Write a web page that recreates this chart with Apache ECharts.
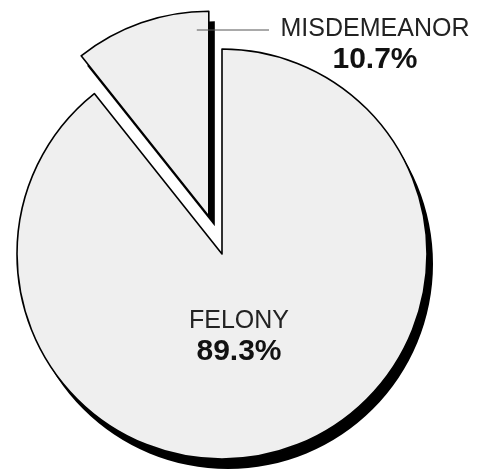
<!DOCTYPE html>
<html>
<head>
<meta charset="utf-8">
<style>
  html, body { margin: 0; padding: 0; background: #fff; }
  #charts { width: 479px; height: 472px; }
</style>
<script src="https://cdn.jsdelivr.net/npm/echarts@6/dist/echarts.min.js"></script>
</head>
<body>
<div id="charts"></div>
<script>
// chart data
var categories = ['FELONY', 'MISDEMEANOR'];
var shares = [89.3, 10.7];
var exploded = [false, true];

// where the labels sit
var labelSpots = [
    { x: 239, y: 337 },
    { x: 375, y: 45 }
];

var myChart = echarts.init(document.getElementById('charts'));

var pieCenter = [222, 254];
var pieRadius = 205;
var explodeBy = 40;
var shadowShift = [6, 10];

var total = shares.reduce(function (a, b) { return a + b; }, 0);

// centre of each slice's layer (exploded ones pushed out along their mid angle)
function sliceCenter(i) {
    var before = 0;
    for (var k = 0; k < i; k++) before += shares[k];
    var mid = (before + shares[i] / 2) / total * 2 * Math.PI; // clockwise from 12 o'clock
    var d = exploded[i] ? explodeBy : 0;
    return [pieCenter[0] + Math.sin(mid) * d, pieCenter[1] - Math.cos(mid) * d];
}

// one pie layer that only paints slice `focus`
function layer(focus, isShadow) {
    var c = sliceCenter(focus);
    if (isShadow) c = [c[0] + shadowShift[0], c[1] + shadowShift[1]];
    return {
        type: 'pie',
        center: c,
        radius: pieRadius,
        startAngle: 90,
        clockwise: true,
        silent: true,
        avoidLabelOverlap: false,
        emphasis: { disabled: true },
        label: {
            position: 'inside',
            formatter: '{n|{b}}\n{v|{c}%}',
            rich: {
                n: { fontSize: 25, lineHeight: 30, color: '#222', fontFamily: 'Liberation Sans' },
                v: { fontSize: 30, lineHeight: 32, color: '#111', fontWeight: 'bold', fontFamily: 'Liberation Sans' }
            }
        },
        labelLine: { show: false },
        labelLayout: isShadow ? null : function (params) {
            var spot = labelSpots[params.dataIndex];
            return { x: spot.x, y: spot.y, align: 'center', verticalAlign: 'middle' };
        },
        data: categories.map(function (name, i) {
            var on = i === focus;
            return {
                name: name,
                value: shares[i],
                itemStyle: on
                    ? (isShadow
                        ? { color: '#000', borderWidth: 0 }
                        : { color: '#efefef', borderColor: '#000', borderWidth: 1.6 })
                    : { color: 'rgba(0,0,0,0)', borderWidth: 0 },
                label: { show: on && !isShadow }
            };
        })
    };
}

var series = [];
categories.forEach(function (name, i) {
    series.push(layer(i, true));
    series.push(layer(i, false));
});

// leader line from the exploded slice to its label
var leaders = [];
categories.forEach(function (name, i) {
    if (!exploded[i]) return;
    var c = sliceCenter(i);
    var y = labelSpots[i].y - 15;
    leaders.push({
        type: 'line',
        z: 100,
        silent: true,
        shape: { x1: c[0] - 12, y1: y, x2: labelSpots[i].x - 106, y2: y },
        style: { stroke: '#555', lineWidth: 1 }
    });
});

myChart.setOption({
    animation: false,
    series: series,
    graphic: leaders
});
</script>
</body>
</html>
